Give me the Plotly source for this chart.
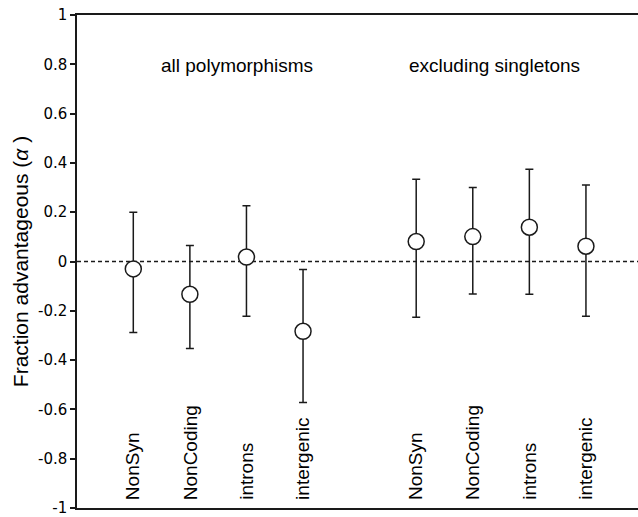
import plotly.graph_objects as go

categories = ["NonSyn", "NonCoding", "introns", "intergenic",
              "NonSyn", "NonCoding", "introns", "intergenic"]
x_pos = [1, 2, 3, 4, 6, 7, 8, 9]
alpha = [-0.03, -0.133, 0.018, -0.283, 0.081, 0.101, 0.139, 0.062]
upper = [0.200, 0.065, 0.226, -0.032, 0.334, 0.300, 0.374, 0.310]
lower = [-0.288, -0.353, -0.222, -0.572, -0.226, -0.132, -0.133, -0.222]
group_labels = ["all polymorphisms", "excluding singletons"]
group_x = [2.84, 7.39]
y_ticks = [1, 0.8, 0.6, 0.4, 0.2, 0, -0.2, -0.4, -0.6, -0.8, -1]

err_plus = [u - a for u, a in zip(upper, alpha)]
err_minus = [a - l for a, l in zip(alpha, lower)]

ink = "#1a1a1a"
fig = go.Figure()
fig.add_trace(go.Scatter(
    x=x_pos, y=alpha, mode="markers",
    marker=dict(size=16, color="white", line=dict(color=ink, width=1.5)),
    error_y=dict(type="data", symmetric=False, array=err_plus, arrayminus=err_minus,
                 color=ink, thickness=1.5, width=4),
    showlegend=False, cliponaxis=False, hoverinfo="skip",
))

fig.add_shape(type="line", xref="paper", x0=0, x1=1, yref="y", y0=0, y1=0,
              line=dict(color=ink, width=1.5, dash="4px,3px"), layer="below")

for cx, txt in zip(x_pos, categories):
    fig.add_annotation(x=cx, y=-0.975, xref="x", yref="y", text=txt, textangle=-90,
                       showarrow=False, yanchor="bottom", xanchor="center",
                       font=dict(family="Liberation Sans, Arial", size=19, color="black"))
for gx, txt in zip(group_x, group_labels):
    fig.add_annotation(x=gx, y=0.795, xref="x", yref="y", text=txt, showarrow=False,
                       yanchor="middle", xanchor="center",
                       font=dict(family="Liberation Sans, Arial", size=19, color="black"))

fig.update_layout(
    width=638, height=517,
    margin=dict(l=77, r=0, t=15, b=7),
    plot_bgcolor="white", paper_bgcolor="white",
    xaxis=dict(range=[0.005, 9.92], showline=True, mirror=True, linecolor=ink, linewidth=1.5,
               showticklabels=False, ticks="", showgrid=False, zeroline=False),
    yaxis=dict(range=[-1, 1], showline=True, linecolor=ink, linewidth=1.5,
               tickvals=y_ticks, ticktext=[("%g" % v) for v in y_ticks],
               ticks="outside", ticklen=5, tickcolor=ink, tickwidth=1.5,
               ticklabeloverflow="allow",
               tickfont=dict(family="DejaVu Sans, Verdana", size=15, color="black"),
               showgrid=False, zeroline=False,
               title=dict(text="Fraction advantageous (<i>α</i> )", standoff=4,
                          font=dict(family="Liberation Sans, Arial", size=21, color="black"))),
)

fig.write_html("out.html", config={"displayModeBar": False},
               post_script="document.body.style.margin='0';document.body.style.overflow='hidden';")
